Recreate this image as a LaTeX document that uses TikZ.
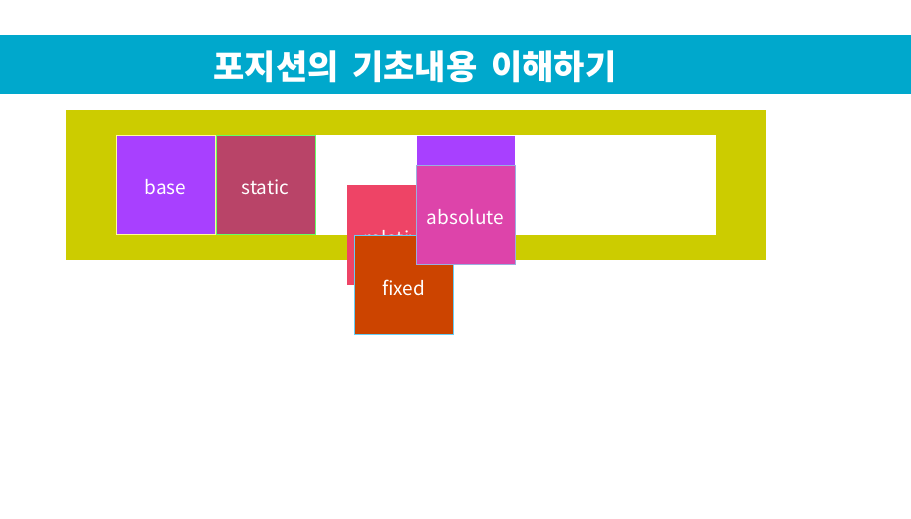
\documentclass[tikz,border=0pt]{standalone}
\usepackage{fontspec}
\newfontfamily\krfont{Noto Sans CJK KR}
\usetikzlibrary{positioning}
\definecolor{barblue}{HTML}{00A8CC}
\definecolor{wrapyel}{HTML}{CCCC00}
\definecolor{basepur}{HTML}{A840FF}
\definecolor{statred}{HTML}{B94468}
\definecolor{relpink}{HTML}{EE4466}
\definecolor{fixorg}{HTML}{CC4400}
\definecolor{abspink}{HTML}{DD44AA}
\tikzset{
  posbox/.style={minimum width=99pt,minimum height=99pt,inner sep=0pt,
    line width=1pt,text=white,font=\krfont\fontsize{19}{22}\selectfont},
  lbl/.style={text=white,font=\krfont\fontsize{19}{22}\selectfont,inner sep=0pt},
  titletxt/.style={text=white,font=\krfont\bfseries\fontsize{34}{40}\selectfont},
}
\begin{document}
\begin{tikzpicture}[x=1pt,y=-1pt]
  \useasboundingbox (0,0) rectangle (911,519);
  % title bar
  \fill[barblue] (0,35) rectangle (911,94);
  \node[titletxt] (title) at (415,67) {포지션의\hspace{6pt} 기초내용\hspace{6pt} 이해하기};
  % wrapper
  \fill[wrapyel] (66,110) rectangle (766,260);
  \fill[white] (116,135) rectangle (716,235);
  % boxes
  \node[posbox,fill=basepur,draw=yellow!40] (base) at (165.5,184.5) {};
  \node[lbl] at ([yshift=-3pt]base.center) {base};
  \node[posbox,fill=statred,draw=green!60!white] (static) at (265.5,184.5) {};
  \node[lbl] at ([yshift=-3pt]static.center) {static};
  \node[posbox,fill=relpink,draw=relpink] (relative) at (396.5,235) {};
  \node[lbl] at ([yshift=-3pt]relative.center) {relative};
  \node[posbox,fill=fixorg,draw=cyan!60] (fixed) at (403.5,284.5) {};
  \node[lbl] at ([yshift=-3pt]fixed.center) {fixed};
  \fill[basepur] (417,135.5) rectangle (515,166);
  \node[posbox,fill=abspink,draw=cyan!40!blue!40] (absolute) at (465.5,214.5) {};
  \node[lbl] at ([yshift=-3pt]absolute.center) {absolute};
\end{tikzpicture}
\end{document}
